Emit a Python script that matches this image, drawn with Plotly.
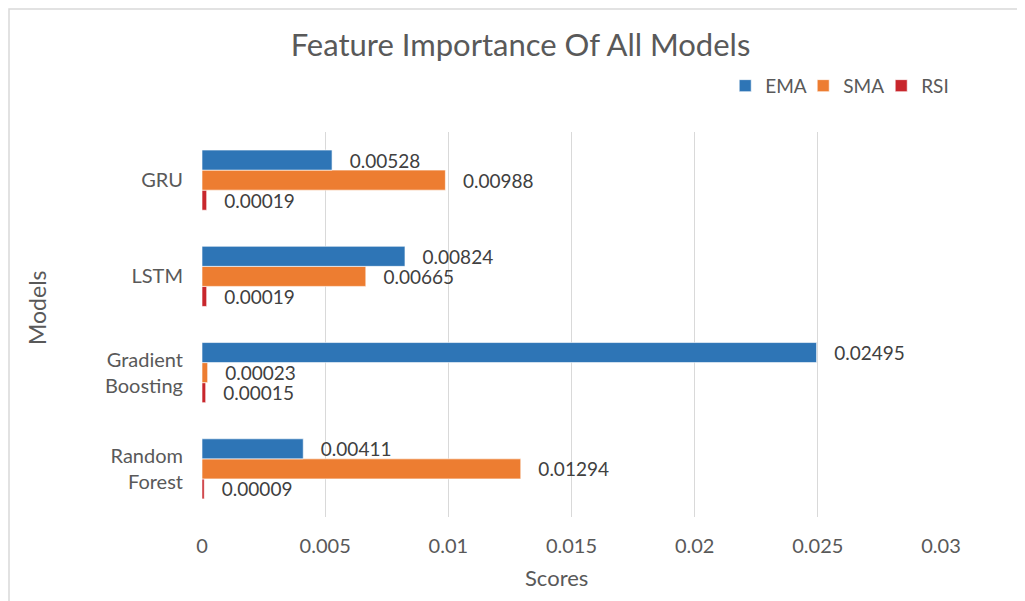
import plotly.graph_objects as go

models = ["Random<br>Forest", "Gradient<br>Boosting", "LSTM", "GRU"]
ema = [0.00411, 0.02495, 0.00824, 0.00528]
sma = [0.01294, 0.00023, 0.00665, 0.00988]
rsi = [0.00009, 0.00015, 0.00019, 0.00019]

series = [("RSI", rsi, "#C8262C"), ("SMA", sma, "#ED7D31"), ("EMA", ema, "#2E75B6")]

fig = go.Figure()
for name, vals, col in series:
    fig.add_trace(go.Bar(
        y=models, x=vals, name=name, orientation="h",
        marker=dict(color=col, line=dict(color="rgba(255,255,255,0.6)", width=1)),
        text=vals, texttemplate="   %{x:.5f}", textposition="outside",
        constraintext="none",
        textfont=dict(size=19, color="#404040"), cliponaxis=False,
    ))

font = "Lato, 'Open Sans', sans-serif"
fig.update_layout(
    width=1025, height=601,
    paper_bgcolor="white", plot_bgcolor="white",
    font=dict(family=font, color="#595959"),
    title=dict(text="Feature Importance Of All Models", x=0.5, xanchor="center",
               y=0.938, yanchor="middle", font=dict(size=31, color="#595959")),
    barmode="group", bargap=0.375, bargroupgap=0,
    margin=dict(l=194, r=92, t=124, b=92, autoexpand=False),
    showlegend=True,
    legend=dict(orientation="h", traceorder="reversed", x=0.708, xanchor="left",
                y=1.12, yanchor="middle", font=dict(size=19, color="#595959"),
                itemwidth=30, entrywidth=33, entrywidthmode="pixels"),
    xaxis=dict(range=[0, 0.03], dtick=0.005, tickformat="~g", showgrid=True,
               gridcolor="#D9D9D9", gridwidth=1.3, zeroline=False, showline=False,
               automargin=False,
               tickfont=dict(size=20, color="#595959"), ticklabelstandoff=15),
    yaxis=dict(type="category", categoryorder="array", categoryarray=models,
               showgrid=False, zeroline=False, showline=False, automargin=False,
               tickfont=dict(size=20, color="#595959"), ticklabelstandoff=18),
    annotations=[
        dict(text="Scores", xref="paper", yref="paper", x=0.48, y=-0.156,
             xanchor="center", yanchor="middle",
             showarrow=False, font=dict(size=22, color="#595959")),
        dict(text="Models", xref="paper", yref="paper", x=-0.2233, y=0.543,
             xanchor="center", yanchor="middle",
             textangle=-90, showarrow=False, font=dict(size=23, color="#595959")),
    ],
    shapes=[dict(type="rect", xref="paper", yref="paper",
                 x0=(1 - 194) / 739, x1=1.2, y0=-0.4, y1=(509 - 1) / 385,
                 line=dict(color="#D9D9D9", width=1.5), layer="below")],
)

fig.write_html("out.html")
